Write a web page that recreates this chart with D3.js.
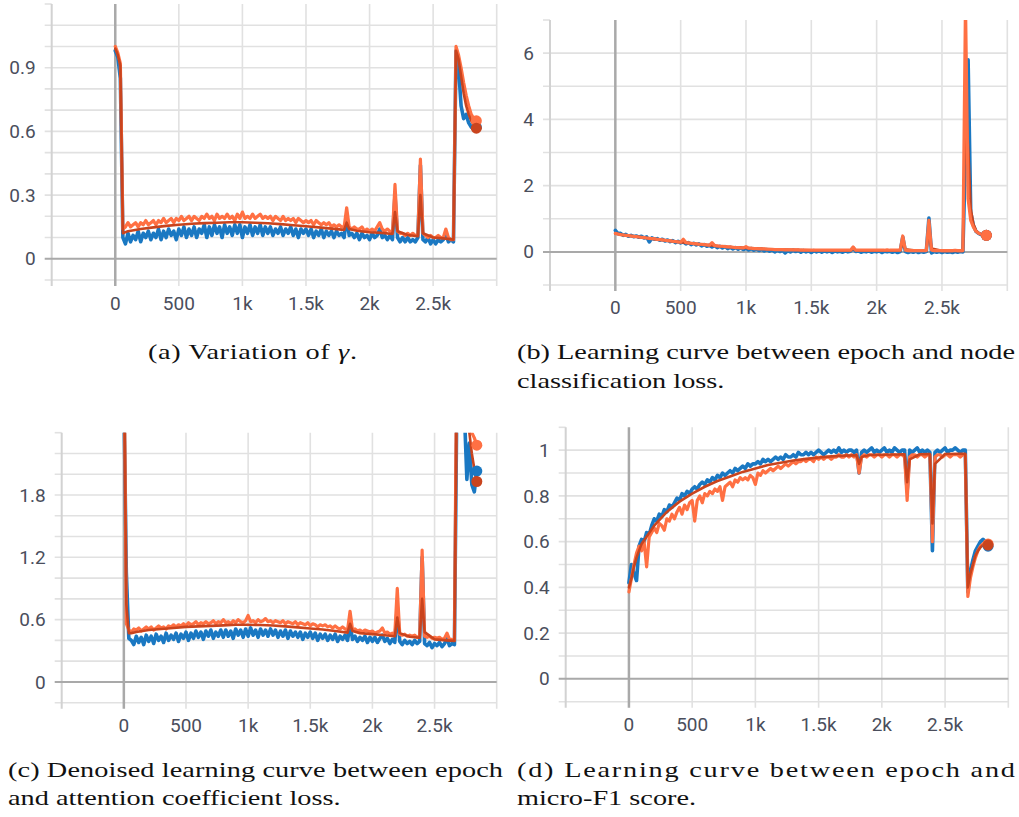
<!DOCTYPE html>
<html><head><meta charset="utf-8">
<script src="https://cdn.jsdelivr.net/npm/d3@7"></script>
<style>html,body{margin:0;padding:0;background:#fff;overflow:hidden}</style>
</head><body>
<svg id="chart" width="1019" height="817"></svg>
<script>
// ---------------- data ----------------
const epochs = [
  0,20,40,60,80,100,120,140,160,180,
  200,220,240,260,280,300,320,340,360,380,
  400,420,440,460,480,500,520,540,560,580,
  600,620,640,660,680,700,720,740,760,780,
  800,820,840,860,880,900,920,940,960,980,
  1000,1020,1040,1060,1080,1100,1120,1140,1160,1180,
  1200,1220,1240,1260,1280,1300,1320,1340,1360,1380,
  1400,1420,1440,1460,1480,1500,1520,1540,1560,1580,
  1600,1620,1640,1660,1680,1700,1720,1740,1760,1780,
  1800,1820,1840,1860,1880,1900,1920,1940,1960,1980,
  2000,2020,2040,2060,2080,2100,2120,2140,2160,2180,
  2200,2220,2240,2260,2280,2300,2320,2340,2360,2380,
  2400,2420,2440,2460,2480,2500,2520,2540,2560,2580,
  2600,2620,2640,2660,2680,2700,2720,2740,2760,2780,
  2800,2820,2840];
const smoothEpochs = [0,20,40,60,100,200,300,400,500,600,700,800,900,1000,1100,1200,1300,1400,1500,1600,1700,1800,1820,1840,1900,2000,2100,2180,2200,2220,2300,2380,2400,2420,2500,2600,2660,2680,2700,2720,2740,2760,2780,2800,2820,2840];

const xTicks = [0,500,1000,1500,2000,2500];
const xTickLabels = ["0","500","1k","1.5k","2k","2.5k"];
const xGrid = [-500,0,500,1000,1500,2000,2500,3000];

// (a) gamma
const gammaBlue = [
  0.98,0.95,0.85,0.10,0.07,0.12,0.08,0.11,0.09,0.13,
  0.08,0.12,0.10,0.13,0.09,0.12,0.10,0.14,0.09,0.13,
  0.10,0.14,0.11,0.13,0.09,0.14,0.11,0.15,0.10,0.14,
  0.11,0.15,0.10,0.14,0.12,0.16,0.10,0.15,0.11,0.16,
  0.12,0.15,0.10,0.16,0.12,0.15,0.11,0.16,0.12,0.16,
  0.10,0.15,0.12,0.16,0.11,0.15,0.12,0.16,0.11,0.15,
  0.12,0.15,0.11,0.14,0.12,0.15,0.11,0.14,0.12,0.15,
  0.11,0.14,0.10,0.14,0.12,0.14,0.11,0.14,0.10,0.13,
  0.11,0.14,0.10,0.13,0.11,0.13,0.10,0.13,0.11,0.12,
  0.10,0.20,0.11,0.12,0.10,0.12,0.09,0.12,0.10,0.11,
  0.09,0.12,0.10,0.11,0.14,0.10,0.11,0.09,0.11,0.09,
  0.30,0.10,0.08,0.10,0.08,0.10,0.08,0.09,0.08,0.10,
  0.44,0.09,0.08,0.10,0.07,0.09,0.07,0.09,0.08,0.09,
  0.12,0.08,0.09,0.08,0.98,0.90,0.72,0.66,0.68,0.64,
  0.62,0.61,0.62];
const gammaOrange = [
  1.00,0.97,0.92,0.14,0.15,0.17,0.15,0.16,0.17,0.15,
  0.17,0.16,0.18,0.16,0.17,0.18,0.16,0.18,0.17,0.19,
  0.17,0.18,0.19,0.17,0.19,0.18,0.20,0.18,0.19,0.20,
  0.18,0.20,0.19,0.18,0.20,0.19,0.21,0.19,0.20,0.18,
  0.21,0.19,0.20,0.19,0.21,0.19,0.20,0.18,0.21,0.19,
  0.22,0.19,0.20,0.19,0.21,0.19,0.20,0.21,0.19,0.20,
  0.19,0.20,0.18,0.20,0.19,0.18,0.20,0.18,0.19,0.18,
  0.19,0.17,0.19,0.18,0.17,0.18,0.17,0.18,0.16,0.18,
  0.17,0.16,0.17,0.16,0.17,0.15,0.16,0.15,0.16,0.15,
  0.15,0.24,0.15,0.14,0.15,0.14,0.14,0.15,0.13,0.14,
  0.13,0.14,0.13,0.15,0.17,0.14,0.13,0.14,0.13,0.12,
  0.35,0.13,0.12,0.12,0.11,0.12,0.11,0.12,0.11,0.11,
  0.47,0.12,0.11,0.10,0.11,0.10,0.10,0.11,0.10,0.10,
  0.14,0.10,0.09,0.09,1.00,0.96,0.90,0.83,0.77,0.72,
  0.68,0.66,0.65];
const gammaSmooth = [0.99,0.96,0.91,0.12,0.13,0.14,0.148,0.155,0.16,0.165,0.168,0.17,0.172,0.172,0.17,0.167,0.163,0.158,0.153,0.148,0.142,0.136,0.17,0.14,0.132,0.125,0.122,0.117,0.22,0.13,0.112,0.106,0.30,0.12,0.10,0.095,0.09,0.98,0.94,0.86,0.78,0.72,0.68,0.65,0.63,0.615];
const gammaGrid = [-0.1,0,0.1,0.2,0.3,0.4,0.5,0.6,0.7,0.8,0.9,1.0,1.1];
const gammaTicks = [0,0.3,0.6,0.9];
const gammaTickLabels = ["0","0.3","0.6","0.9"];

// (b) node classification loss
const nodeLossBlue = [
  0.65,0.55,0.56,0.50,0.53,0.47,0.50,0.46,0.48,0.44,
  0.47,0.42,0.45,0.30,0.42,0.38,0.40,0.35,0.38,0.33,
  0.36,0.31,0.34,0.28,0.32,0.27,0.30,0.24,0.28,0.22,
  0.26,0.21,0.24,0.18,0.22,0.17,0.20,0.15,0.19,0.13,
  0.17,0.12,0.16,0.10,0.14,0.09,0.13,0.08,0.12,0.07,
  0.11,0.06,0.10,0.05,0.09,0.04,0.08,0.03,0.07,0.02,
  0.06,0.00,0.05,0.01,0.05,-0.03,0.04,0.00,0.05,0.01,
  0.04,-0.01,0.04,0.00,0.03,-0.02,0.04,0.00,0.03,-0.01,
  0.03,0.00,0.03,-0.02,0.03,0.00,0.02,-0.01,0.03,0.00,
  0.02,0.12,0.01,0.03,-0.01,0.02,0.00,0.03,-0.01,0.02,
  0.00,0.03,-0.02,0.02,0.00,0.02,-0.01,0.02,-0.02,0.01,
  0.45,0.01,-0.02,0.01,-0.01,0.02,-0.02,0.01,-0.01,0.01,
  1.02,-0.03,0.01,-0.01,0.01,-0.02,0.01,-0.01,0.00,-0.02,
  0.01,-0.01,0.01,0.00,3.0,5.8,1.2,0.80,0.62,0.56,
  0.52,0.50,0.50];
const nodeLossOrange = [
  0.56,0.54,0.52,0.51,0.50,0.49,0.48,0.47,0.46,0.45,
  0.44,0.43,0.42,0.41,0.40,0.39,0.38,0.37,0.36,0.35,
  0.34,0.33,0.32,0.31,0.30,0.29,0.38,0.28,0.27,0.26,
  0.25,0.24,0.23,0.23,0.22,0.21,0.20,0.28,0.19,0.18,
  0.17,0.17,0.16,0.15,0.15,0.14,0.13,0.13,0.12,0.12,
  0.16,0.11,0.11,0.10,0.10,0.09,0.09,0.09,0.08,0.08,
  0.08,0.07,0.07,0.07,0.07,0.06,0.06,0.06,0.06,0.06,
  0.06,0.05,0.05,0.05,0.05,0.05,0.05,0.05,0.05,0.05,
  0.05,0.05,0.05,0.05,0.05,0.05,0.05,0.05,0.05,0.05,
  0.05,0.15,0.05,0.05,0.05,0.05,0.05,0.05,0.05,0.05,
  0.05,0.05,0.05,0.05,0.06,0.05,0.05,0.05,0.05,0.05,
  0.48,0.05,0.04,0.04,0.04,0.04,0.04,0.04,0.04,0.04,
  0.95,0.05,0.04,0.04,0.04,0.04,0.04,0.04,0.04,0.04,
  0.05,0.04,0.04,0.04,7.5,1.6,0.95,0.75,0.62,0.56,
  0.53,0.51,0.50];
const nodeLossSmooth = [0.55,0.54,0.52,0.51,0.49,0.44,0.39,0.34,0.29,0.25,0.21,0.17,0.14,0.12,0.10,0.08,0.07,0.06,0.05,0.05,0.04,0.04,0.10,0.05,0.04,0.04,0.04,0.04,0.30,0.08,0.04,0.04,0.65,0.10,0.03,0.03,0.03,4.5,3.2,1.3,0.85,0.65,0.57,0.53,0.51,0.50];
const nodeLossGrid = [-1,0,1,2,3,4,5,6];
const nodeLossTicks = [0,2,4,6];
const nodeLossTickLabels = ["0","2","4","6"];

// (c) attention coefficient loss
const attnLossBlue = [
  2.80,1.05,0.42,0.40,0.36,0.44,0.38,0.43,0.36,0.45,
  0.39,0.44,0.37,0.46,0.40,0.44,0.38,0.47,0.40,0.45,
  0.41,0.47,0.39,0.46,0.42,0.48,0.40,0.47,0.42,0.49,
  0.43,0.48,0.41,0.49,0.44,0.50,0.42,0.48,0.44,0.50,
  0.43,0.50,0.44,0.49,0.42,0.51,0.45,0.50,0.43,0.51,
  0.44,0.52,0.45,0.50,0.43,0.51,0.45,0.50,0.44,0.51,
  0.45,0.50,0.43,0.49,0.44,0.50,0.42,0.49,0.44,0.48,
  0.43,0.48,0.41,0.47,0.43,0.48,0.42,0.47,0.40,0.46,
  0.42,0.46,0.40,0.45,0.41,0.46,0.39,0.44,0.41,0.45,
  0.40,0.55,0.41,0.44,0.39,0.43,0.40,0.44,0.38,0.43,
  0.39,0.43,0.38,0.42,0.45,0.39,0.42,0.37,0.41,0.38,
  0.72,0.39,0.36,0.40,0.37,0.39,0.36,0.40,0.37,0.39,
  1.20,0.37,0.35,0.38,0.33,0.37,0.35,0.38,0.34,0.37,
  0.42,0.35,0.37,0.36,2.80,3.40,3.00,2.60,1.95,2.30,
  1.90,1.83,2.03];
const attnLossOrange = [
  3.50,0.56,0.50,0.48,0.51,0.50,0.52,0.49,0.51,0.53,
  0.51,0.53,0.50,0.52,0.54,0.52,0.53,0.51,0.54,0.53,
  0.55,0.53,0.55,0.54,0.56,0.54,0.57,0.55,0.56,0.58,
  0.55,0.57,0.56,0.58,0.56,0.57,0.59,0.56,0.58,0.57,
  0.60,0.57,0.58,0.56,0.59,0.57,0.60,0.58,0.57,0.59,
  0.64,0.58,0.59,0.57,0.60,0.58,0.59,0.61,0.58,0.59,
  0.57,0.59,0.58,0.57,0.59,0.56,0.58,0.57,0.56,0.58,
  0.55,0.57,0.56,0.55,0.57,0.54,0.56,0.55,0.53,0.55,
  0.54,0.55,0.53,0.54,0.52,0.54,0.52,0.51,0.53,0.51,
  0.50,0.68,0.50,0.51,0.49,0.50,0.48,0.50,0.49,0.48,
  0.49,0.47,0.48,0.49,0.52,0.47,0.48,0.46,0.47,0.46,
  0.90,0.46,0.45,0.46,0.44,0.45,0.44,0.45,0.43,0.44,
  1.27,0.44,0.43,0.44,0.42,0.43,0.42,0.43,0.41,0.42,
  0.47,0.41,0.41,0.40,3.50,3.50,3.20,2.90,2.60,2.45,
  2.40,2.35,2.28];
const attnLossSmooth = [3.2,0.75,0.47,0.47,0.48,0.50,0.51,0.52,0.53,0.535,0.54,0.545,0.55,0.55,0.548,0.544,0.535,0.525,0.515,0.505,0.49,0.475,0.56,0.49,0.47,0.46,0.45,0.44,0.62,0.47,0.435,0.425,0.80,0.48,0.41,0.40,0.395,3.0,3.2,3.0,2.8,2.6,2.4,2.2,2.05,1.93];
const attnLossGrid = [-0.2,0,0.2,0.4,0.6,0.8,1.0,1.2,1.4,1.6,1.8,2.0,2.2];
const attnLossTicks = [0,0.6,1.2,1.8];
const attnLossTickLabels = ["0","0.6","1.2","1.8"];

// (d) micro-F1
const f1Blue = [
  0.42,0.50,0.46,0.43,0.58,0.61,0.60,0.64,0.63,0.67,
  0.70,0.69,0.72,0.71,0.74,0.73,0.76,0.75,0.77,0.79,
  0.78,0.81,0.80,0.82,0.81,0.83,0.84,0.83,0.85,0.86,
  0.85,0.87,0.86,0.88,0.87,0.89,0.88,0.90,0.89,0.90,
  0.91,0.90,0.92,0.91,0.92,0.93,0.92,0.94,0.93,0.94,
  0.94,0.95,0.94,0.96,0.95,0.96,0.95,0.96,0.97,0.96,
  0.97,0.96,0.98,0.97,0.97,0.98,0.97,0.99,0.98,0.98,
  0.99,0.98,0.99,0.98,0.99,1.00,0.99,0.98,0.99,1.00,
  0.99,1.00,0.99,1.01,0.99,1.00,0.99,1.00,1.00,0.99,
  1.00,0.90,0.99,1.00,0.99,1.00,1.01,0.99,1.00,0.99,
  1.00,1.01,0.99,1.00,0.99,1.01,1.00,0.99,1.00,1.00,
  0.82,1.00,0.99,1.00,1.01,0.99,1.00,0.99,1.00,0.99,
  0.56,0.99,1.00,0.99,1.00,1.01,0.99,1.00,1.00,1.01,
  1.00,0.99,1.00,1.00,0.38,0.47,0.52,0.56,0.58,0.60,
  0.61,0.60,0.58];
const f1Orange = [
  0.38,0.44,0.50,0.55,0.58,0.56,0.60,0.49,0.62,0.64,
  0.66,0.64,0.68,0.67,0.65,0.70,0.69,0.72,0.70,0.73,
  0.75,0.72,0.76,0.74,0.77,0.78,0.69,0.78,0.80,0.77,
  0.81,0.80,0.82,0.81,0.83,0.82,0.84,0.78,0.84,0.85,
  0.86,0.84,0.87,0.86,0.88,0.87,0.88,0.87,0.89,0.88,
  0.85,0.90,0.89,0.91,0.90,0.91,0.92,0.91,0.92,0.93,
  0.92,0.93,0.94,0.93,0.94,0.95,0.94,0.95,0.95,0.96,
  0.95,0.96,0.96,0.95,0.97,0.96,0.97,0.96,0.97,0.97,
  0.96,0.97,0.97,0.98,0.97,0.97,0.98,0.97,0.98,0.97,
  0.98,0.90,0.97,0.98,0.97,0.98,0.98,0.97,0.98,0.98,
  0.97,0.98,0.98,0.97,0.98,0.98,0.97,0.98,0.98,0.97,
  0.78,0.97,0.98,0.98,0.97,0.98,0.98,0.97,0.98,0.98,
  0.60,0.97,0.98,0.98,0.97,0.98,0.98,0.97,0.98,0.98,
  0.98,0.97,0.98,0.98,0.36,0.44,0.49,0.53,0.56,0.58,
  0.59,0.60,0.59];
const f1Smooth = [0.40,0.44,0.49,0.53,0.59,0.67,0.73,0.775,0.81,0.84,0.865,0.885,0.905,0.92,0.935,0.945,0.955,0.962,0.968,0.973,0.976,0.978,0.94,0.97,0.979,0.98,0.981,0.982,0.86,0.96,0.982,0.983,0.68,0.94,0.983,0.984,0.984,0.40,0.46,0.50,0.54,0.56,0.575,0.585,0.59,0.585];
const f1Grid = [-0.1,0,0.1,0.2,0.3,0.4,0.5,0.6,0.7,0.8,0.9,1.0];
const f1Ticks = [0,0.2,0.4,0.6,0.8,1];
const f1TickLabels = ["0","0.2","0.4","0.6","0.8","1"];

// ---------------- drawing ----------------
const BLUE = "#1a78c2", ORANGE = "#ff7043", SMOOTH = "#c9441e";
const GRID = "#e1e1e1", AXIS = "#a9a9a9", TICKTXT = "#4a4e5c";
const svg = d3.select("#chart");

const panels = [
  {id:"a", left:51.7, right:496.7, top:4, bottom:280, ydom:[-0.1,1.2],
   grid:gammaGrid, ticks:gammaTicks, labels:gammaTickLabels,
   blue:gammaBlue, orange:gammaOrange, smooth:gammaSmooth, order:["blue","orange","smooth"], xlab:30},
  {id:"b", left:550, right:1007.3, top:20, bottom:285, ydom:[-1,7],
   grid:nodeLossGrid, ticks:nodeLossTicks, labels:nodeLossTickLabels,
   blue:nodeLossBlue, orange:nodeLossOrange, smooth:nodeLossSmooth, order:["blue","smooth","orange"], xlab:28.5},
  {id:"c", left:61.7, right:496.7, top:432.7, bottom:702.7, ydom:[-0.2,2.4],
   grid:attnLossGrid, ticks:attnLossTicks, labels:attnLossTickLabels,
   blue:attnLossBlue, orange:attnLossOrange, smooth:attnLossSmooth, order:["blue","orange","smooth"], xlab:29},
  {id:"d", left:565.7, right:1008.3, top:427.3, bottom:701.7, ydom:[-0.1,1.1],
   grid:f1Grid, ticks:f1Ticks, labels:f1TickLabels,
   blue:f1Blue, orange:f1Orange, smooth:f1Smooth, order:["blue","orange","smooth"], xlab:29}
];

const defs = svg.append("defs");

panels.forEach(p => {
  const x = d3.scaleLinear().domain([-500,3000]).range([p.left,p.right]);
  const y = d3.scaleLinear().domain(p.ydom).range([p.bottom,p.top]);
  const g = svg.append("g").attr("class","panel-"+p.id);

  defs.append("clipPath").attr("id","clip-"+p.id)
    .append("rect").attr("x",p.left).attr("y",p.top)
    .attr("width",p.right-p.left).attr("height",p.bottom-p.top);

  // horizontal grid
  g.selectAll("line.hg").data(p.grid.filter(v=>Math.abs(v)>1e-9)).join("line")
    .attr("x1",p.left-7).attr("x2",p.right)
    .attr("y1",d=>y(d)).attr("y2",d=>y(d))
    .attr("stroke",GRID).attr("stroke-width",1.6);
  // top tick
  g.append("line").attr("x1",p.left-7).attr("x2",p.left)
    .attr("y1",y(p.ydom[1])).attr("y2",y(p.ydom[1]))
    .attr("stroke",GRID).attr("stroke-width",1.6);
  // vertical grid
  g.selectAll("line.vg").data(xGrid.filter(v=>v!==0)).join("line")
    .attr("x1",d=>x(d)).attr("x2",d=>x(d))
    .attr("y1",p.top).attr("y2",p.bottom+6)
    .attr("stroke",d=>d===-500?"#d2d2d2":GRID).attr("stroke-width",d=>d===-500?2:1.6);
  // zero axes
  g.append("line").attr("x1",p.left-7).attr("x2",p.right)
    .attr("y1",y(0)).attr("y2",y(0)).attr("stroke",AXIS).attr("stroke-width",2);
  g.append("line").attr("x1",x(0)).attr("x2",x(0))
    .attr("y1",p.top).attr("y2",p.bottom+6).attr("stroke",AXIS).attr("stroke-width",2.5);

  // tick labels
  g.selectAll("text.yl").data(p.ticks).join("text")
    .attr("x",p.left-16).attr("y",d=>y(d)+6.6)
    .attr("text-anchor","end")
    .attr("font-family","Roboto, 'Noto Sans', sans-serif").attr("font-size",19)
    .attr("fill",TICKTXT).text((d,i)=>p.labels[i]);
  g.selectAll("text.xl").data(xTicks).join("text")
    .attr("x",d=>x(d)).attr("y",p.bottom+p.xlab)
    .attr("text-anchor","middle")
    .attr("font-family","Roboto, 'Noto Sans', sans-serif").attr("font-size",19)
    .attr("fill",TICKTXT).text((d,i)=>xTickLabels[i]);

  // series
  const lines = g.append("g").attr("clip-path","url(#clip-"+p.id+")");
  const lineRaw = d3.line().x((d,i)=>x(epochs[i])).y(d=>y(d));
  const lineSm = d3.line().x((d,i)=>x(smoothEpochs[i])).y(d=>y(d));
  const series = {
    blue:{data:p.blue, gen:lineRaw, color:BLUE, w:3.6, xs:epochs},
    orange:{data:p.orange, gen:lineRaw, color:ORANGE, w:3.2, xs:epochs},
    smooth:{data:p.smooth, gen:lineSm, color:SMOOTH, w:2.6, xs:smoothEpochs}
  };
  p.order.forEach(k => {
    const s = series[k];
    lines.append("path").datum(s.data)
      .attr("d",s.gen).attr("fill","none").attr("stroke",s.color)
      .attr("stroke-width",s.w).attr("stroke-linejoin","round").attr("stroke-linecap","round");
  });
  p.order.forEach(k => {
    const s = series[k];
    const n = s.data.length-1;
    lines.append("circle").attr("cx",x(s.xs[n])).attr("cy",y(s.data[n]))
      .attr("r",5.5).attr("fill",s.color);
  });
});

// ---------------- captions ----------------
const capFont = "'Liberation Serif', 'Times New Roman', serif";
const capSize = 21;
const probe = svg.append("text").attr("font-family",capFont).attr("font-size",capSize)
  .text("(b) Learning curve between epoch and node");
const natural = probe.node().getComputedTextLength();
probe.remove();
const k = 498 / natural;

const captionLines = [
  {x:148, y:359, text:"(a) Variation of ", gamma:true, width:209},
  {x:517, y:359, text:"(b) Learning curve between epoch and node", width:498},
  {x:517, y:388, text:"classification loss."},
  {x:8,   y:777, text:"(c) Denoised learning curve between epoch", width:495},
  {x:8,   y:805, text:"and attention coefficient loss."},
  {x:517, y:777, text:"(d) Learning curve between epoch and", width:498},
  {x:517, y:805, text:"micro-F1 score."}
];
captionLines.forEach(c => {
  const t = svg.append("g").attr("transform",`translate(${c.x},${c.y}) scale(${k},1)`)
    .append("text").attr("x",0).attr("y",0)
    .attr("font-family",capFont).attr("font-size",capSize).attr("fill","#111");
  t.append("tspan").text(c.text);
  if (c.gamma) {
    t.append("tspan").attr("font-style","italic").text("γ");
    t.append("tspan").text(".");
  }
  if (c.width) {
    t.attr("textLength", c.width/k).attr("lengthAdjust","spacing");
  }
});
</script>
</body></html>
